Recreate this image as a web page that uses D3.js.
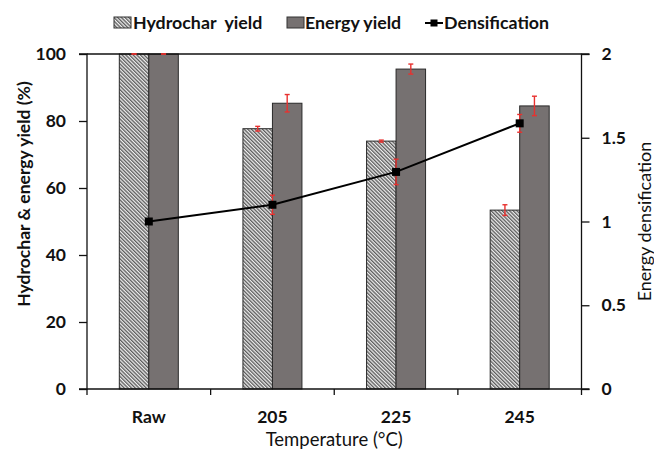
<!DOCTYPE html>
<html>
<head>
<meta charset="utf-8">
<script src="https://cdn.jsdelivr.net/npm/d3@7/dist/d3.min.js"></script>
<style>
  html, body { margin: 0; padding: 0; background: #fff; }
  svg { display: block; font-family: Lato, "Open Sans", sans-serif; }
</style>
</head>
<body>
<svg id="chart" width="654" height="454"></svg>
<script>
const categories = ["Raw", "205", "225", "245"];
const hydrocharYield = [100, 77.7, 74.0, 53.4];
const hydrocharErr = [0, 0.7, 0.3, 1.6];
const energyYield = [100, 85.3, 95.5, 84.5];
const energyErr = [0, 2.6, 1.5, 2.9];
const densification = [1.0, 1.10, 1.296, 1.586];
const densificationErr = [0, 0.057, 0.076, 0.053];
const leftTicks = [0, 20, 40, 60, 80, 100];
const rightTicks = [0, 0.5, 1, 1.5, 2];

const svg = d3.select("#chart");
const m = { left: 87, right: 581.5, top: 54, bottom: 389 };

const defs = svg.append("defs");
const pat = defs.append("pattern")
  .attr("id", "hatch").attr("patternUnits", "userSpaceOnUse")
  .attr("width", 2.6).attr("height", 2.6)
  .attr("patternTransform", "rotate(-45)");
pat.append("rect").attr("width", 2.6).attr("height", 2.6).attr("fill", "#eeeeee");
pat.append("line").attr("x1", 0.7).attr("y1", 0).attr("x2", 0.7).attr("y2", 2.6)
  .attr("stroke", "#3e3e3e").attr("stroke-width", 1.1);

const x = d3.scaleBand().domain(categories).range([m.left, m.right]);
const yL = d3.scaleLinear().domain([0, 100]).range([m.bottom, m.top]);
const yR = d3.scaleLinear().domain([0, 2]).range([m.bottom, m.top]);
const barW = 29.5;

const energyColor = "#767171";
const errColor = "#e8312f";

// Bars
const g = svg.append("g");
categories.forEach((c, i) => {
  const cx = x(c) + x.bandwidth() / 2;
  g.append("rect").attr("x", cx - barW).attr("y", yL(hydrocharYield[i]))
    .attr("width", barW).attr("height", yL(0) - yL(hydrocharYield[i]))
    .attr("fill", "url(#hatch)").attr("stroke", "#2a2a2a").attr("stroke-width", 1);
  g.append("rect").attr("x", cx).attr("y", yL(energyYield[i]))
    .attr("width", barW).attr("height", yL(0) - yL(energyYield[i]))
    .attr("fill", energyColor).attr("stroke", "#2a2a2a").attr("stroke-width", 1);
});

// Axes
const axL = svg.append("g").attr("transform", `translate(${m.left},0)`)
  .call(d3.axisLeft(yL).tickValues(leftTicks).tickSize(8).tickPadding(13).tickFormat(d3.format("d")));
const axR = svg.append("g").attr("transform", `translate(${m.right},0)`)
  .call(d3.axisRight(yR).tickValues(rightTicks).tickSize(8).tickPadding(12).tickFormat(d => d3.format("")(d)));
const axB = svg.append("g").attr("transform", `translate(0,${m.bottom})`)
  .call(d3.axisBottom(x).tickSize(0).tickPadding(22));
// Category boundary ticks on bottom axis
const bounds = categories.map(c => x(c)).concat([m.right]);
svg.append("g").selectAll("line").data(bounds).join("line")
  .attr("x1", d => d).attr("x2", d => d).attr("y1", m.bottom).attr("y2", m.bottom + 6)
  .attr("stroke", "#111").attr("stroke-width", 1.3);
// top border
svg.append("line").attr("x1", m.left).attr("x2", m.right).attr("y1", m.top).attr("y2", m.top)
  .attr("stroke", "#111").attr("stroke-width", 1.3);

[axL, axR, axB].forEach(a => {
  a.selectAll(".domain").attr("stroke", "#111").attr("stroke-width", 1.3);
  a.selectAll(".tick line").attr("stroke", "#111").attr("stroke-width", 1.3);
  a.selectAll("text").attr("fill", "#111").attr("font-size", 17.5).attr("font-weight", 700)
    .attr("font-family", "Lato, sans-serif");
});
axL.select(".domain").attr("d", `M-8,${m.top}H0V${m.bottom}H-8`);
axR.select(".domain").attr("d", `M8,${m.top}H0V${m.bottom}H8`);
axB.select(".domain").attr("d", `M${m.left},0H${m.right}`);

// Error bars
function errBar(cx, yTop, yBot) {
  const e = svg.append("g").attr("stroke", errColor).attr("stroke-width", 1.4);
  e.append("line").attr("x1", cx).attr("x2", cx).attr("y1", yTop).attr("y2", yBot);
  e.append("line").attr("x1", cx - 2.5).attr("x2", cx + 2.5).attr("y1", yTop).attr("y2", yTop);
  e.append("line").attr("x1", cx - 2.5).attr("x2", cx + 2.5).attr("y1", yBot).attr("y2", yBot);
}
categories.forEach((c, i) => {
  const cx = x(c) + x.bandwidth() / 2;
  errBar(cx - barW / 2, yL(hydrocharYield[i] + hydrocharErr[i]), yL(hydrocharYield[i] - hydrocharErr[i]));
  errBar(cx + barW / 2, yL(energyYield[i] + energyErr[i]), yL(energyYield[i] - energyErr[i]));
});

// Densification line
const line = d3.line().x((d, i) => x(categories[i]) + x.bandwidth() / 2).y(d => yR(d));
svg.append("path").datum(densification).attr("d", line)
  .attr("fill", "none").attr("stroke", "#000").attr("stroke-width", 2);
categories.forEach((c, i) => {
  const cx = x(c) + x.bandwidth() / 2;
  errBar(cx, yR(densification[i] + densificationErr[i]), yR(densification[i] - densificationErr[i]));
});
svg.append("g").selectAll("rect").data(densification).join("rect")
  .attr("x", (d, i) => x(categories[i]) + x.bandwidth() / 2 - 4)
  .attr("y", d => yR(d) - 4).attr("width", 8).attr("height", 8).attr("fill", "#000");

// Axis titles
svg.append("text").attr("transform", `translate(30,194) rotate(-90)`)
  .attr("text-anchor", "middle").attr("font-size", 17.5).attr("font-weight", 700)
  .attr("fill", "#111").text("Hydrochar & energy yield (%)");
svg.append("text").attr("transform", `translate(651,221.5) rotate(-90)`)
  .attr("text-anchor", "middle").attr("font-size", 18).attr("font-weight", 400)
  .attr("fill", "#111").text("Energy densification");
svg.append("text").attr("x", (m.left + m.right) / 2).attr("y", 446)
  .attr("text-anchor", "middle").attr("font-size", 18.5).attr("font-weight", 400)
  .attr("fill", "#111").text("Temperature (°C)");

// Legend
const leg = svg.append("g").attr("font-size", 17.8).attr("font-weight", 700).attr("fill", "#111");
leg.append("rect").attr("x", 114).attr("y", 17).attr("width", 17).attr("height", 11)
  .attr("fill", "url(#hatch)").attr("stroke", "#333").attr("stroke-width", 1);
leg.append("text").attr("x", 133).attr("y", 29).style("white-space", "pre").text("Hydrochar  yield");
leg.append("rect").attr("x", 287).attr("y", 17).attr("width", 17).attr("height", 11)
  .attr("fill", energyColor).attr("stroke", "#333").attr("stroke-width", 1);
leg.append("text").attr("x", 305).attr("y", 29).text("Energy yield");
leg.append("line").attr("x1", 425).attr("x2", 443).attr("y1", 23).attr("y2", 23)
  .attr("stroke", "#000").attr("stroke-width", 2);
leg.append("rect").attr("x", 430.5).attr("y", 19.5).attr("width", 7).attr("height", 7).attr("fill", "#000");
leg.append("text").attr("x", 444).attr("y", 29).text("Densification");
</script>
</body>
</html>
